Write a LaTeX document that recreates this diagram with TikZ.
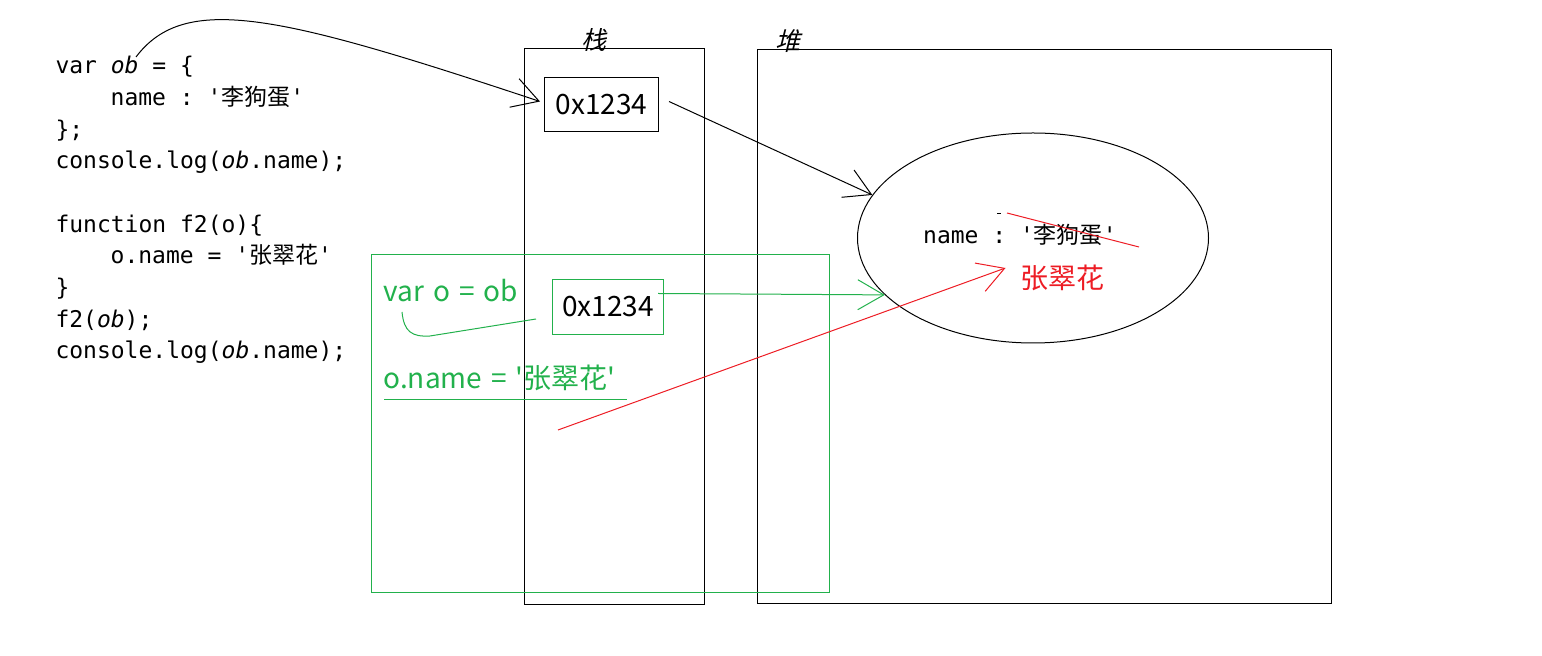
\documentclass[tikz,border=0pt]{standalone}
\usepackage{fontspec}
\setmonofont{DejaVu Sans Mono}
\newfontfamily\cjk{Noto Sans CJK SC}
\newfontfamily\cjkslant[FakeSlant=0.25]{Noto Sans CJK SC}
\newfontfamily\yahei[Ligatures=TeXOff, WordSpace=1.45]{Noto Sans CJK SC}
\usetikzlibrary{arrows.meta,positioning,shapes.geometric}
\definecolor{paintgreen}{RGB}{34,177,76}
\definecolor{paintred}{RGB}{237,28,36}
\tikzset{
    memframe/.style={draw, line width=0.5pt, inner sep=0pt},
    srcstyle/.style={font=\ttfamily\fontsize{11.5}{15.83}\selectfont, align=left, inner sep=0pt},
    labeltext/.style={font=\yahei\fontsize{14}{16}\selectfont, inner sep=0pt},
    areatitle/.style={font=\cjkslant\fontsize{12.5}{14}\selectfont, inner sep=0pt},
    ptrarrow/.style={-{Straight Barb[length=13pt,width=15pt]}, line width=0.5pt}
}
\begin{document}
\begin{tikzpicture}[x=0.5pt, y=-0.5pt, line width=0.5pt]
    \useasboundingbox (0,0) rectangle (1542,656);

    \node[srcstyle, anchor=north west] (src) at (55,56) {var \textit{ob} = \{\\
        \hspace*{2.4em}name : '{\cjk 李狗蛋}'\\
        \};\\
        console.log(\textit{ob}.name);\\
        \mbox{}\\
        function f2(o)\{\\
        \hspace*{2.4em}o.name = '{\cjk 张翠花}'\\
        \}\\
        f2(\textit{ob});\\
        console.log(\textit{ob}.name);};
    \coordinate (obref) at (136,57);

    \node[memframe, minimum width=90pt, minimum height=278pt] (stack) at (614.5,326.5) {};
    \node[memframe, minimum width=287pt, minimum height=277pt] (heap) at (1044.5,326.5) {};
    \node[areatitle] (stacktitle) at ([shift={(-21,-8)}] stack.north) {栈};
    \node[areatitle] (heaptitle) at ([shift={(-257,-8)}] heap.north) {堆};

    \node[memframe, labeltext, minimum width=57pt, minimum height=27pt] (addr) at (601.5,104.5) {0x1234};
    \node[ellipse, draw, minimum width=175.5pt, minimum height=105pt, inner sep=0pt] (obj) at (1033,238) {};
    \node[srcstyle] (field) at (1020,235) {name : '{\cjk 李狗蛋}'};
    \node[labeltext, text=paintred] (newname) at (1062,278) {张翠花};

    \node[memframe, draw=paintgreen, minimum width=229pt, minimum height=169pt] (call) at (600.5,423.5) {};
    \node[memframe, draw=paintgreen, labeltext, minimum width=55.5pt, minimum height=27.5pt] (oaddr) at (608,307) {0x1234};
    \node[labeltext, text=paintgreen, anchor=west] (varo) at (383,291) {var o = ob};
    \node[labeltext, text=paintgreen, anchor=west] (setname) at (383,378) {o.name = '张翠花'};
    \coordinate (varotail) at (402,312);
    \coordinate (redstart) at (558,430);

    \draw[ptrarrow] (obref) .. controls (185,-8) and (280,15) .. ([shift={(-4,-3)}] addr.west);
    \draw[ptrarrow] ([shift={(10,-3)}] addr.east) -- (obj.165);
    \draw[ptrarrow, paintgreen] ([shift={(-6,-13.5)}] oaddr.east) -- (obj.201);
    \draw[paintgreen] (varotail) .. controls (404,332) and (412,337) .. (430,336) -- ([shift={(-16,12)}] oaddr.west);
    \draw[paintgreen] ([shift={(1,22)}] setname.west) -- ++(243,0);
    \draw[ptrarrow, paintred] (redstart) -- ([shift={(-14,-10)}] newname.west);

    % crossed out old value
    \draw[paintred] (1007,213) -- (1139,247);
    \draw (997,214) -- (1001,214);
\end{tikzpicture}
\end{document}
